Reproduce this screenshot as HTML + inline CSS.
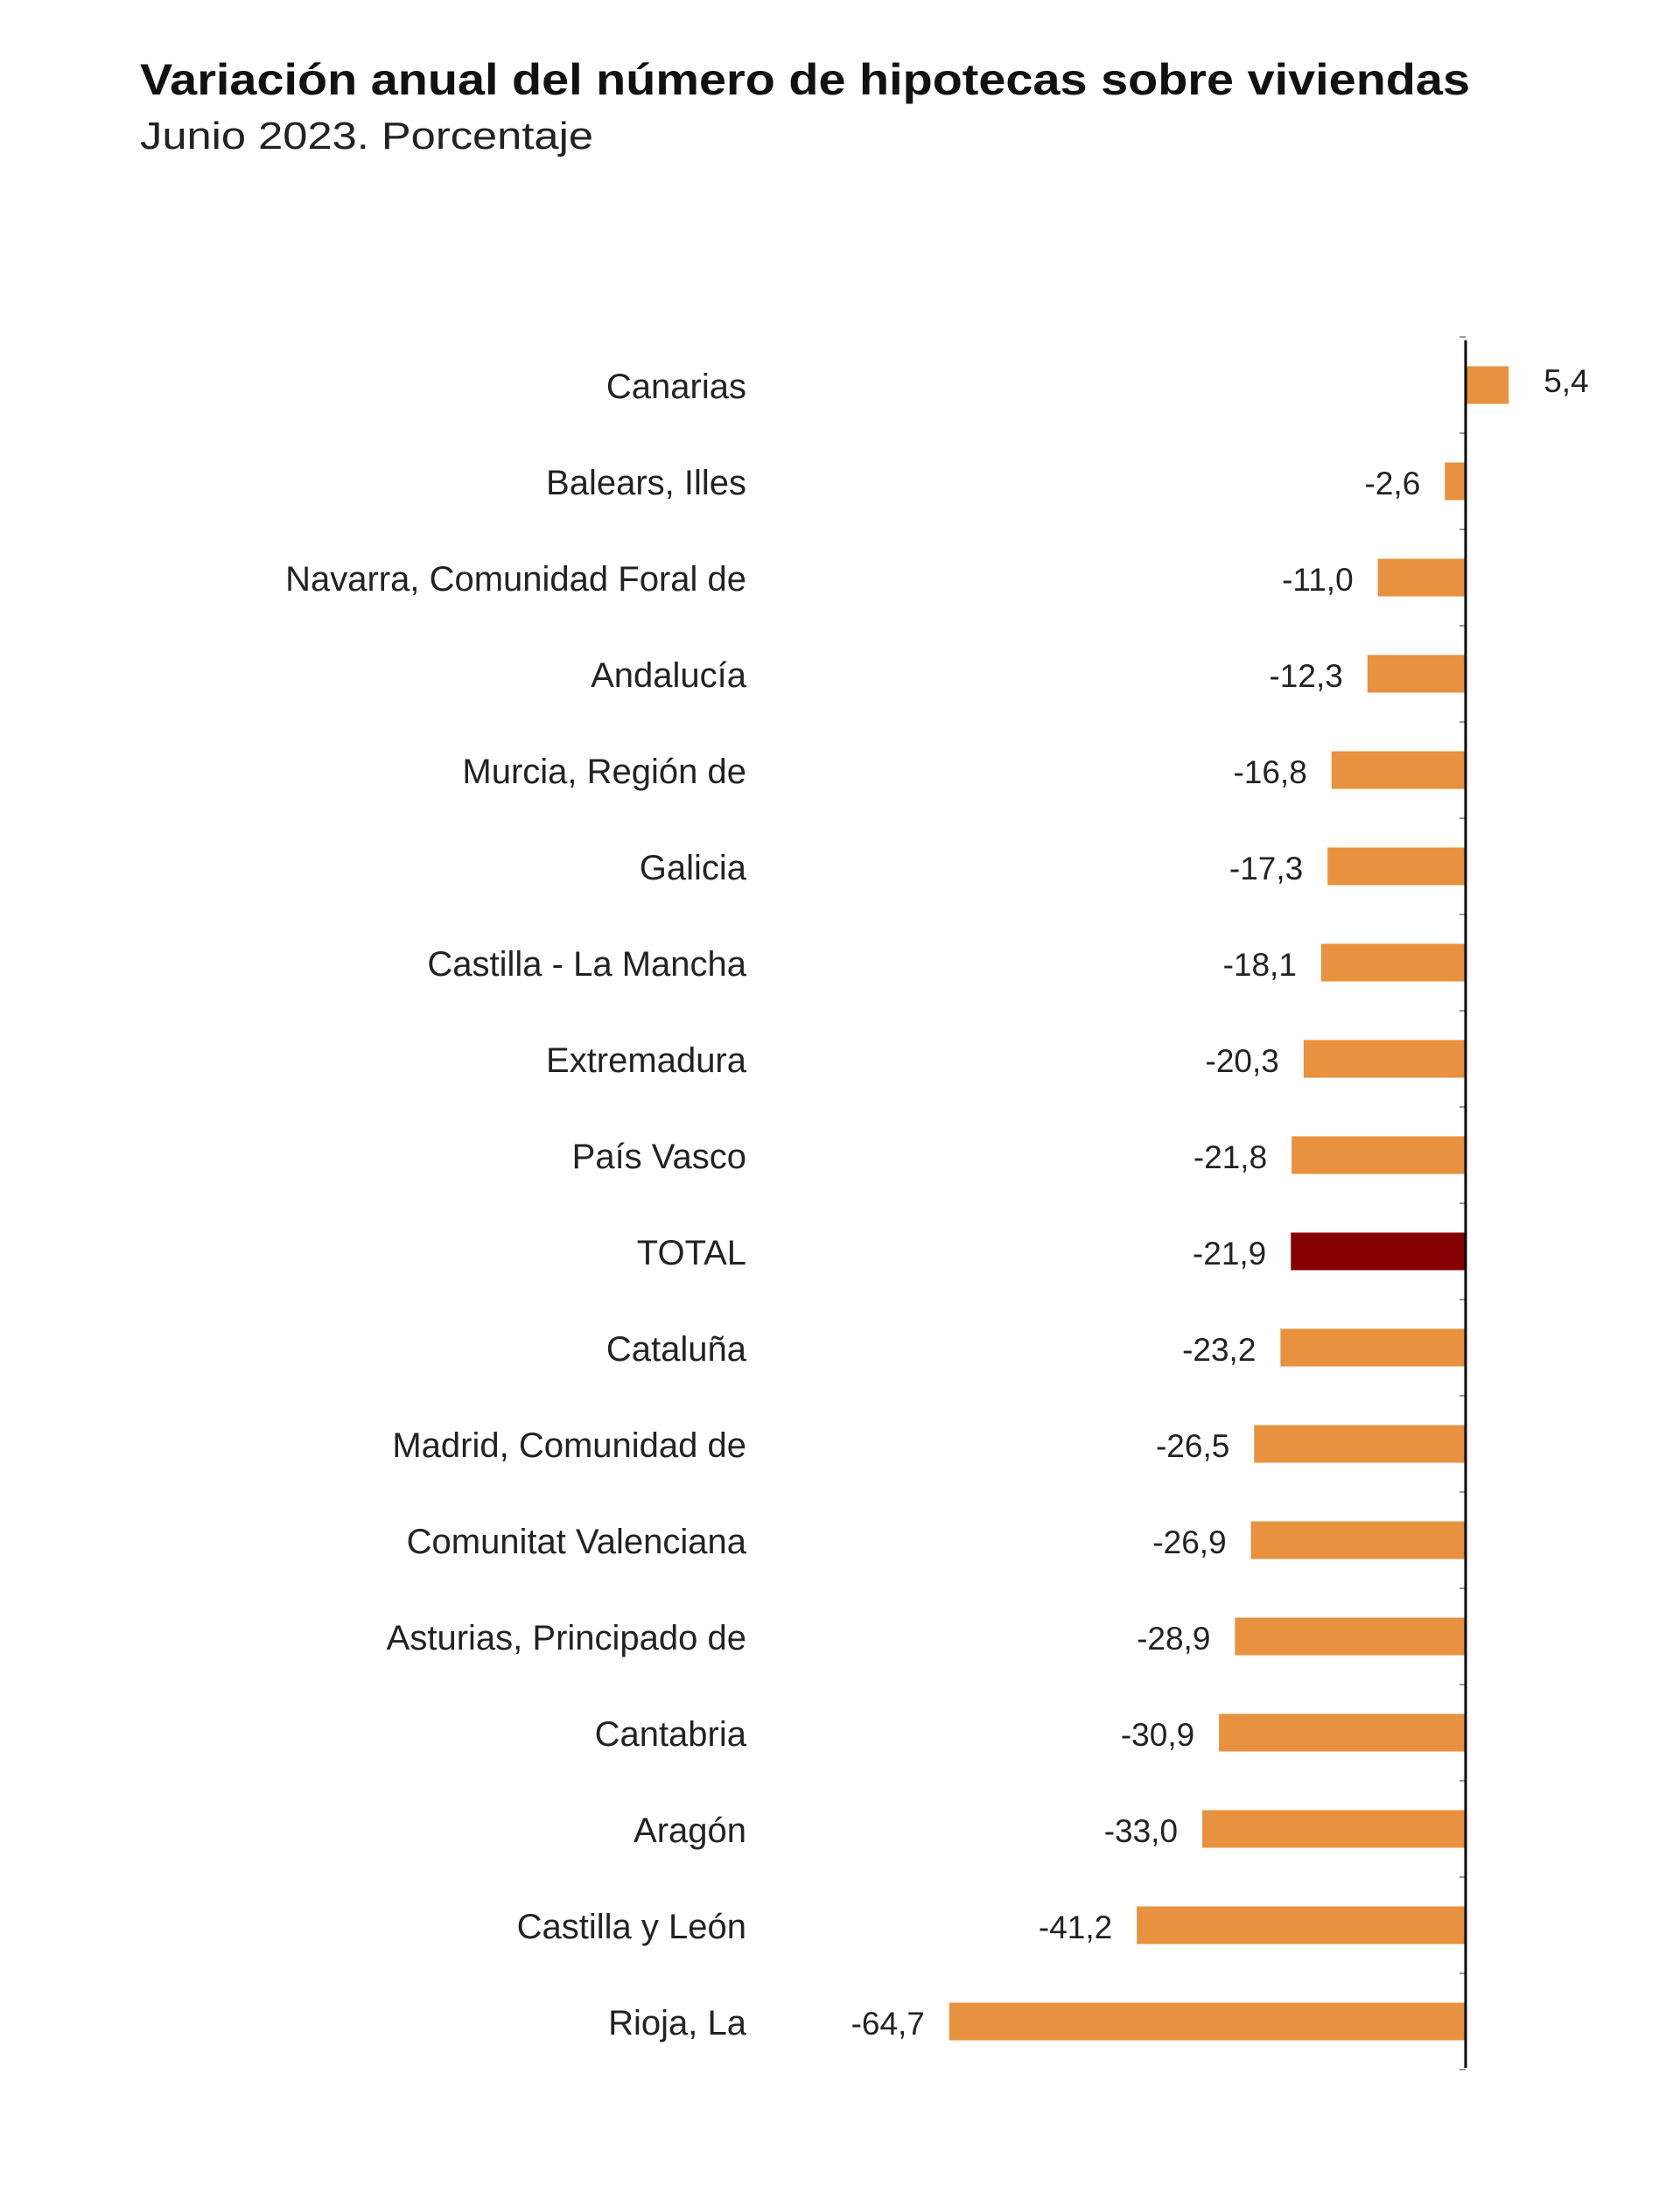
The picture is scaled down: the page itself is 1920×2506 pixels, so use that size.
<!DOCTYPE html>
<html><head><meta charset="utf-8"><style>
html,body{margin:0;padding:0;background:#fff;}
svg{display:block;font-family:"Liberation Sans",Arial,sans-serif;}
</style></head><body>
<svg id="chart" width="1920" height="2506" viewBox="0 0 1920 2506">
<text x="160" y="108" font-size="50" font-weight="bold" fill="#111" textLength="1520" lengthAdjust="spacingAndGlyphs">Variación anual del número de hipotecas sobre viviendas</text>
<text x="160" y="170" font-size="44" fill="#222" textLength="518" lengthAdjust="spacingAndGlyphs">Junio 2023. Porcentaje</text>
<g id="bars"></g>
</svg>
<script>
const categories = ["Canarias","Balears, Illes","Navarra, Comunidad Foral de","Andalucía","Murcia, Región de","Galicia","Castilla - La Mancha","Extremadura","País Vasco","TOTAL","Cataluña","Madrid, Comunidad de","Comunitat Valenciana","Asturias, Principado de","Cantabria","Aragón","Castilla y León","Rioja, La"];
const values = [5.4,-2.6,-11.0,-12.3,-16.8,-17.3,-18.1,-20.3,-21.8,-21.9,-23.2,-26.5,-26.9,-28.9,-30.9,-33.0,-41.2,-64.7];
const highlight = ["TOTAL"];

const NS = "http://www.w3.org/2000/svg";
const g = document.getElementById("bars");
const zeroX = 1675, pxPerUnit = 9.12;
const firstY = 440, rowH = 110, barH = 43;
const xScale = v => zeroX + v * pxPerUnit;
const yScale = i => firstY + i * rowH;
function mk(tag, attrs){const e=document.createElementNS(NS,tag);for(const k in attrs)e.setAttribute(k,attrs[k]);return e;}

categories.forEach((c,i)=>{
  const v = values[i], cy = yScale(i);
  const x0 = Math.min(xScale(0), xScale(v)), w = Math.abs(xScale(v)-xScale(0));
  const r = mk("rect",{x:x0,y:cy-barH/2,width:w,height:barH,fill:highlight.includes(c)?"#850000":"#E8913E"});
  
  
  g.appendChild(r);
  const lab = mk("text",{x:853,y:cy+15,"font-size":40,fill:"#222","text-anchor":"end"});
  lab.textContent = c;
  
  
  g.appendChild(lab);
  const txt = v.toFixed(1).replace(".",",");
  const vl = mk("text",{x: v>=0 ? xScale(v)+40 : xScale(v)-28, y: v>=0 ? cy+8 : cy+15,"font-size":37,fill:"#222","text-anchor": v>=0?"start":"end"});
  vl.textContent = txt;
  
  
  g.appendChild(vl);
});
for(let i=0;i<=categories.length;i++){
  const ty = yScale(i) - rowH/2;
  const t = mk("line",{x1:zeroX-7,x2:zeroX,y1:ty,y2:ty,stroke:"#999","stroke-width":2});
  
  
  g.appendChild(t);
}
const ax = mk("line",{x1:zeroX,x2:zeroX,y1:389,y2:2363,stroke:"#000","stroke-width":3});


g.appendChild(ax);
</script>
</body></html>
